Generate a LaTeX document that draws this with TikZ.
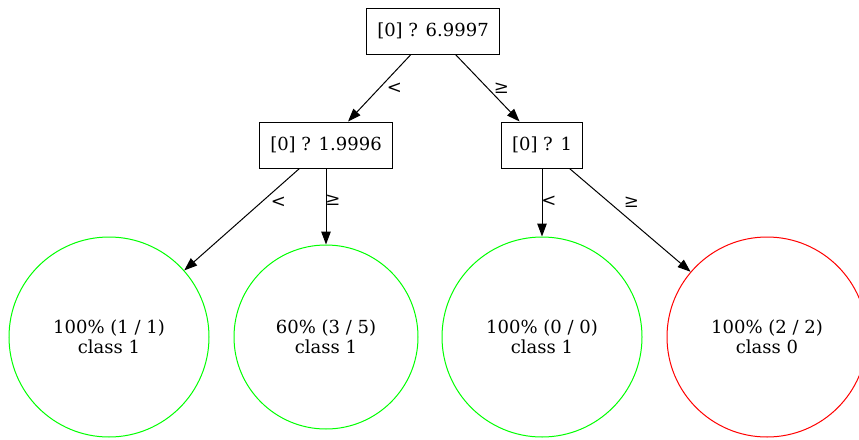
\documentclass[tikz,border=0pt]{standalone}
\usepackage{fontspec}
\setmainfont{DejaVu Serif}
\usetikzlibrary{arrows.meta}
\definecolor{leafgreen}{RGB}{0,255,0}
\definecolor{leafred}{RGB}{255,0,0}

\begin{document}
\begin{tikzpicture}[x=1pt, y=-1pt, line width=1pt,
    every node/.style={font=\fontsize{18}{19.5}\selectfont},
    split/.style={draw, rectangle, minimum height=46pt, inner xsep=11pt},
    leaf/.style={draw, circle, align=center, inner sep=0pt},
    edge/.style={-{Triangle[length=13pt,width=9.5pt]}},
    lab/.style={inner sep=0pt}]
  \useasboundingbox (0,0) rectangle (859,439);
  % split nodes
  \node[split] (root) at (433,31) {[0] ? 6.9997};
  \node[split] (lt) at (326,145) {[0] ? 1.9996};
  \node[split] (rt) at (542,145) {[0] ? 1};
  % leaves
  \node[leaf, leafgreen, minimum size=200pt, text=black] (l1) at (109,337) {100\% (1 / 1)\\class 1};
  \node[leaf, leafgreen, minimum size=184pt, text=black] (l2) at (326,337) {60\% (3 / 5)\\class 1};
  \node[leaf, leafgreen, minimum size=200pt, text=black] (l3) at (542,337) {100\% (0 / 0)\\class 1};
  \node[leaf, leafred, minimum size=200pt, text=black] (l4) at (767,337) {100\% (2 / 2)\\class 0};
  % branches
  \draw[edge] (root) -- node[lab, xshift=15pt] {<} (lt);
  \draw[edge] (root) -- node[lab, xshift=14pt] {≥} (rt);
  \draw[edge] (lt) -- node[lab, pos=0.33, xshift=17pt] {<} (l1);
  \draw[edge] (lt) -- node[lab, pos=0.42, xshift=7pt] {≥} (l2);
  \draw[edge] (rt) -- node[lab, pos=0.48, xshift=7pt] {<} (l3);
  \draw[edge] (rt) -- node[lab, pos=0.33, xshift=22pt] {≥} (l4);
\end{tikzpicture}
\end{document}
